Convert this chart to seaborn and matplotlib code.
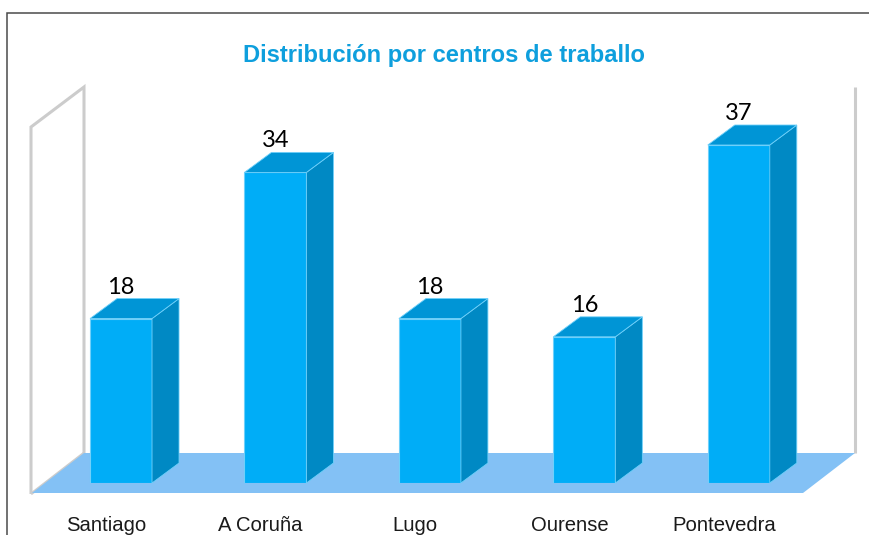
import matplotlib
matplotlib.use("Agg")
import matplotlib.pyplot as plt
import seaborn as sns
import pandas as pd
from matplotlib.patches import Polygon
from matplotlib.lines import Line2D
from matplotlib.transforms import ScaledTranslation

title = "Distribución por centros de traballo"
centros = ["Santiago", "A Coruña", "Lugo", "Ourense", "Pontevedra"]
valores = [18, 34, 18, 16, 37]

W, H = 869, 535
FRONT, TOP, SIDE = "#00ADF7", "#0095D6", "#0089C4"
FLOOR, WALL, EDGE = "#83C1F5", "#CCCCCC", "#6FD0FA"

sns.set_theme(style="white")
plt.rcParams["font.family"] = ["Liberation Sans", "DejaVu Sans"]

fig = plt.figure(figsize=(W / 100, H / 100), dpi=100, facecolor="white")

def fx(x, y):
    return (x / W, 1 - y / H)

# pixel frame of the plotting area: category slots and value baseline
left, right, base, top = 43.8, 816.0, 483.0, 87.0
ax = fig.add_axes([left / W, 1 - base / H, (right - left) / W, (base - top) / H])
ax.patch.set_visible(False)

def poly(pts, **kw):
    fig.add_artist(Polygon([fx(*p) for p in pts], closed=True,
                           transform=fig.transFigure, zorder=-1, **kw))

def line(pts, color, lw):
    xs, ys = zip(*[fx(*p) for p in pts])
    fig.add_artist(Line2D(xs, ys, color=color, lw=lw, transform=fig.transFigure,
                          zorder=-1, solid_joinstyle="miter", solid_capstyle="butt"))

# outer frame
line([(7, 535), (7, 13), (869, 13)], "#4A4A4A", 1.1)
# floor and walls
line([(31, 494), (31, 127), (84, 87), (84, 453)], WALL, 2.2)
line([(855, 87), (855, 453)], WALL, 2.2)
line([(31, 494), (84, 453)], WALL, 2.0)
poly([(32, 493), (84, 453), (855, 453), (803, 493)], facecolor=FLOOR, edgecolor="none")

df = pd.DataFrame({"centro": centros, "valor": valores})
sns.barplot(data=df, x="centro", y="valor", ax=ax, color=FRONT, saturation=1,
            width=62 / 154.4, edgecolor=EDGE, linewidth=0.8, zorder=3)
ax.set_xlim(-0.5, 4.5)
ax.set_ylim(0, (base - top) / (338 / 37))
ax.set_xlabel("")
ax.set_ylabel("")
ax.set_yticks([])
for s in ax.spines.values():
    s.set_visible(False)

# depth of the extruded bars, in data units
dx = 27 / ((right - left) / 5)
dy = 20 / (338 / 37)
for bar, v in zip(ax.patches, valores):
    x0, x1 = bar.get_x(), bar.get_x() + bar.get_width()
    ax.add_patch(Polygon([(x1, 0), (x1 + dx, dy), (x1 + dx, v + dy), (x1, v)],
                         facecolor=SIDE, edgecolor=EDGE, lw=0.6, zorder=3, clip_on=False))
    ax.add_patch(Polygon([(x0, v), (x0 + dx, v + dy), (x1 + dx, v + dy), (x1, v)],
                         facecolor=TOP, edgecolor=EDGE, lw=0.6, zorder=3, clip_on=False))
    ax.annotate(str(v), (x0 + (x1 - x0) / 2, v), xytext=(0, 25), textcoords="offset pixels",
                ha="center", va="baseline", fontsize=17, color="black",
                family=["Lato", "DejaVu Sans"], zorder=5, annotation_clip=False)

ax.set_xticks(range(len(centros)))
ax.set_xticklabels(centros, fontsize=14.6, color="#1A1A1A")
ax.tick_params(axis="x", length=0, pad=23.5)
shift = ScaledTranslation(-15 / 100, 0, fig.dpi_scale_trans)
for lab in ax.get_xticklabels():
    lab.set_transform(lab.get_transform() + shift)

fig.text(444 / W, 1 - 62 / H, title, ha="center", va="baseline", fontsize=17.1,
         fontweight="bold", color="#0E9FDD")

fig.savefig("out.png", dpi=100)
